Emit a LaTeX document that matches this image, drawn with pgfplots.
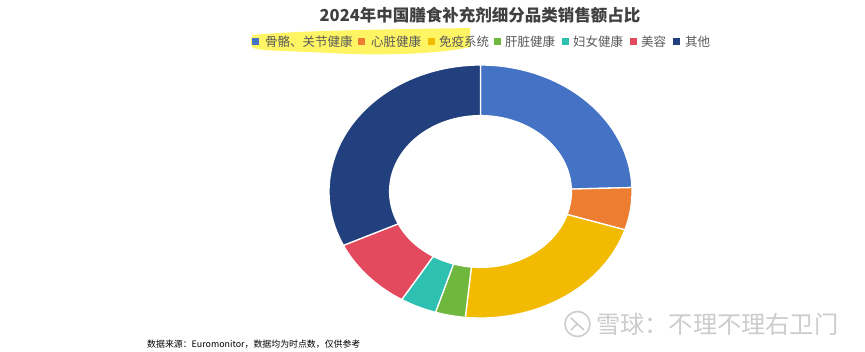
\documentclass[border=0pt]{standalone}
\usepackage{pgfplots}
\pgfplotsset{compat=1.18}
\usepackage{pgfplotstable}
\usepackage{fontspec}
\setmainfont{Noto Sans CJK SC}
\definecolor{cBlue}{HTML}{4472C4}
\definecolor{cOrange}{HTML}{ED7D31}
\definecolor{cYellow}{HTML}{F2BA00}
\definecolor{cGreen}{HTML}{70B73D}
\definecolor{cTeal}{HTML}{2EC0B0}
\definecolor{cRed}{HTML}{E44A5E}
\definecolor{cNavy}{HTML}{22407D}
\definecolor{hl}{RGB}{255,245,100}
\definecolor{legtxt}{HTML}{595959}
\definecolor{titletxt}{HTML}{404040}

\pgfplotstableread{
label value
bone 24.5
heart 5.4
immune 21.7
liver 3.2
women 3.9
beauty 9.3
other 32.0
}\datatable

\newcommand\sector[3]{%
  \addplot[fill=#1, draw=white, line width=1.3pt, domain=0:101, samples=102, variable=\t]
  ({ifthenelse(\t<50.5,1,0.6)*cos(ifthenelse(\t<50.5,(#2)+((#3)-(#2))*\t/50,(#3)+((#2)-(#3))*(\t-51)/50))},
   {ifthenelse(\t<50.5,1,0.6)*sin(ifthenelse(\t<50.5,(#2)+((#3)-(#2))*\t/50,(#3)+((#2)-(#3))*(\t-51)/50))}) -- cycle;}

\begin{document}
\begin{tikzpicture}[x=1pt,y=1pt]
\path[use as bounding box] (0,0) rectangle (865,351);
% cumulative angles (clockwise from top)
\pgfmathsetmacro\aO{90}
\pgfplotstablegetelem{0}{value}\of\datatable \pgfmathsetmacro\aA{\aO-3.6*\pgfplotsretval}
\pgfplotstablegetelem{1}{value}\of\datatable \pgfmathsetmacro\aB{\aA-3.6*\pgfplotsretval}
\pgfplotstablegetelem{2}{value}\of\datatable \pgfmathsetmacro\aC{\aB-3.6*\pgfplotsretval}
\pgfplotstablegetelem{3}{value}\of\datatable \pgfmathsetmacro\aD{\aC-3.6*\pgfplotsretval}
\pgfplotstablegetelem{4}{value}\of\datatable \pgfmathsetmacro\aE{\aD-3.6*\pgfplotsretval}
\pgfplotstablegetelem{5}{value}\of\datatable \pgfmathsetmacro\aF{\aE-3.6*\pgfplotsretval}
\pgfplotstablegetelem{6}{value}\of\datatable \pgfmathsetmacro\aG{\aF-3.6*\pgfplotsretval}

% highlight stroke
\fill[hl] (253,316) .. controls (300,321) and (420,322) .. (470,323)
  -- (470,304) .. controls (440,297) and (380,295) .. (330,298)
  .. controls (290,300) and (260,300) .. (253,303) .. controls (250,306) and (250,313) .. cycle;

\begin{axis}[hide axis, scale only axis, width=303pt, height=253pt,
  xmin=-1, xmax=1, ymin=-1, ymax=1, clip=false,
  at={(480.5pt,159.5pt)}, anchor=center]
\sector{cBlue}{\aO}{\aA}
\sector{cOrange}{\aA}{\aB}
\sector{cYellow}{\aB}{\aC}
\sector{cGreen}{\aC}{\aD}
\sector{cTeal}{\aD}{\aE}
\sector{cRed}{\aE}{\aF}
\sector{cNavy}{\aF}{\aG}
\end{axis}

% title
\node[font=\fontsize{16.5}{17}\selectfont\bfseries, text=titletxt] at (480,336) {2024年中国膳食补充剂细分品类销售额占比};

% legend
\begin{scope}[every node/.style={anchor=west, inner sep=0pt, font=\fontsize{12.5}{13}\selectfont, text=legtxt}]
\fill[cBlue]   (251.5,305.5) rectangle ++(7,7); \node at (265,309) {骨骼、关节健康};
\fill[cOrange] (358,305.5) rectangle ++(7,7);   \node at (371,309) {心脏健康};
\fill[cYellow] (427.5,305.5) rectangle ++(7,7); \node at (439,309) {免疫系统};
\fill[cGreen]  (493.5,305.5) rectangle ++(7,7); \node at (505,309) {肝脏健康};
\fill[cTeal]   (561.5,305.5) rectangle ++(7,7); \node at (573,309) {妇女健康};
\fill[cRed]    (629.5,305.5) rectangle ++(7,7); \node at (641,309) {美容};
\fill[cNavy]   (672.5,305.5) rectangle ++(7,7); \node at (685,309) {其他};
\end{scope}

% source
\node[anchor=west, inner sep=0pt, font=\fontsize{8.9}{10}\selectfont] at (147,7) {数据来源：Euromonitor，数据均为时点数，仅供参考};

% watermark
\draw[gray!40, line width=1.6pt] (577.5,27) circle (12.5);
\draw[gray!40, line width=1.6pt] (571,33) -- (584,21) (571,21) -- (577,27);
\node[anchor=west, inner sep=0pt, font=\fontsize{24.2}{25}\selectfont, text=gray!40] at (596,27) {雪球：不理不理右卫门};
\end{tikzpicture}
\end{document}
